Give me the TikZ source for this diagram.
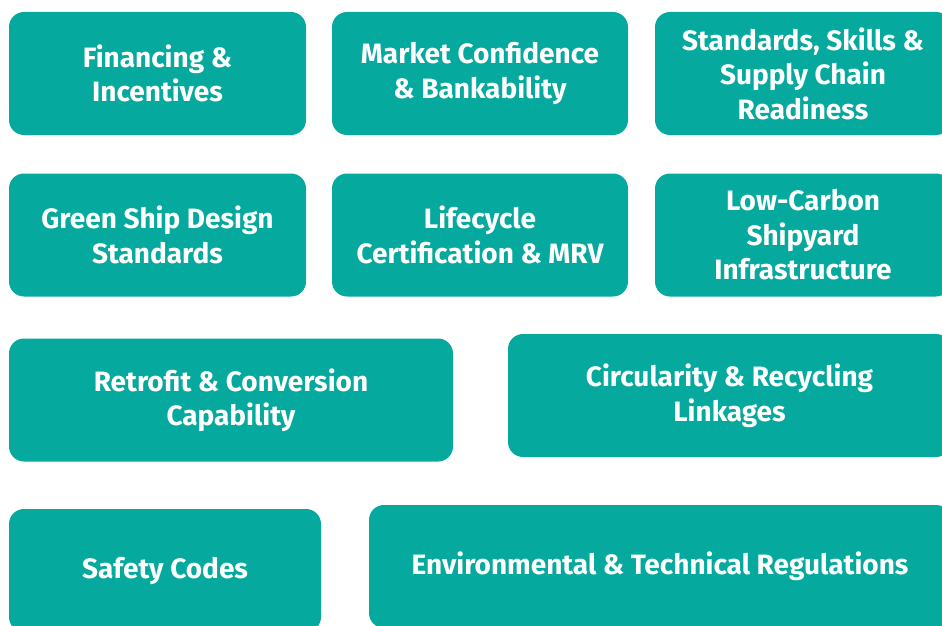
\documentclass[tikz,border=0pt]{standalone}
\usepackage{fontspec}
\setsansfont{Fira Sans}
\usepackage{xcolor}
\usepackage{tikz}
\usetikzlibrary{positioning}
\definecolor{tealbox}{RGB}{6, 169, 157}

\begin{document}
\begin{tikzpicture}[
    x=1pt, y=-1pt,
    block/.style={fill=tealbox, rounded corners=15pt, text=white, align=center, inner sep=0pt,
        minimum height=123pt, font=\sffamily\bfseries\fontsize{28}{34.5}\selectfont}
]
    \useasboundingbox (0,0) rectangle (942,626);
    \clip (0,0) rectangle (942,626);

    % Top row
    \node[block, minimum width=297pt] (fin) at (157.5, 73.5) {Financing \&\\Incentives};
    \node[block, minimum width=296pt] (market) at (480, 73.5) {Market Confidence\\\& Bankability};
    \node[block, minimum width=296pt] (skills) at (803, 73.5) {Standards, Skills \&\\Supply Chain\\Readiness};

    % Second row
    \node[block, minimum width=297pt] (design) at (157.5, 235) {Green Ship Design\\Standards};
    \node[block, minimum width=296pt] (lifecycle) at (480, 235) {Lifecycle\\Certification \& MRV};
    \node[block, minimum width=296pt] (shipyard) at (803, 235) {Low-Carbon\\Shipyard\\Infrastructure};

    % Third row
    \node[block, minimum width=444pt] (retrofit) at (231, 400) {Retrofit \& Conversion\\Capability};
    \node[block, minimum width=443pt] (circular) at (729.5, 395.5) {Circularity \& Recycling\\Linkages};

    % Bottom row
    \node[block, minimum width=312pt] (safety) at (165, 570.5) {Safety Codes};
    \node[block, minimum width=582pt] (envreg) at (660, 566.5) {Environmental \& Technical Regulations};
\end{tikzpicture}
\end{document}
